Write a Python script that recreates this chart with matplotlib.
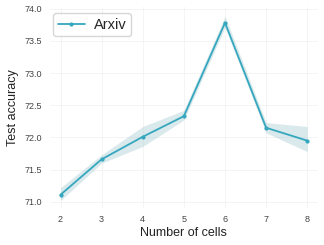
import matplotlib
matplotlib.use("Agg")
import matplotlib.pyplot as plt
import seaborn as sns

cells = [2, 3, 4, 5, 6, 7, 8]
acc_mean = [71.11, 71.66, 72.01, 72.33, 73.78, 72.15, 71.95]
acc_low = [71.02, 71.60, 71.86, 72.27, 73.71, 72.07, 71.78]
acc_high = [71.22, 71.73, 72.17, 72.42, 73.88, 72.23, 72.17]
yticks = [71.0, 71.5, 72.0, 72.5, 73.0, 73.5, 74.0]

sns.set_style("whitegrid")
plt.rcParams['font.family'] = ['Liberation Sans', 'DejaVu Sans']

fig, ax = plt.subplots(figsize=(3.24, 2.45), dpi=100)
col = '#35a7bf'
ax.fill_between(cells, acc_low, acc_high, color='#a3c9cf', alpha=0.4, lw=0)
ax.plot(cells, acc_mean, color=col, lw=1.3, marker='o', ms=2.0, label='Arxiv')

ax.set_xlim(1.75, 8.25)
ax.set_ylim(70.9, 74.02)
ax.set_xticks(cells)
ax.set_yticks(yticks)
ax.set_yticklabels([f"{t:.1f}" for t in yticks])
ax.tick_params(labelsize=6.5, labelcolor='#444444', length=0, pad=5)
ax.tick_params(axis='y', pad=6)
ax.grid(color='#f2f2f2', lw=0.6)
for s in ax.spines.values():
    s.set_visible(False)
ax.set_xlabel("Number of cells", fontsize=9, color='#222222', labelpad=2)
ax.set_ylabel("Test accuracy", fontsize=9, color='#222222', labelpad=4)
leg = ax.legend(loc='upper left', fontsize=10.5, frameon=True, borderpad=0.3,
                handlelength=1.9, handletextpad=0.6, borderaxespad=0.2,
                bbox_to_anchor=(0.0, 0.985))
leg.get_frame().set_edgecolor('#cccccc')

fig.subplots_adjust(left=0.155, right=0.98, bottom=0.15, top=0.97)
fig.savefig("out.png", dpi=100)
